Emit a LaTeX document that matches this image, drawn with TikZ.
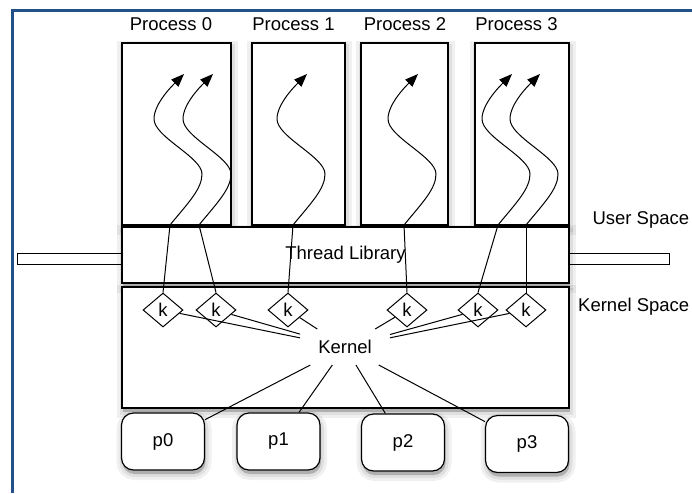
\documentclass[tikz,border=0pt]{standalone}
\usepackage{fontspec}
\setmainfont{Liberation Sans}
\usetikzlibrary{arrows.meta,shapes.geometric,shadows}
\definecolor{frameblue}{RGB}{36,80,138}
\def\thread(#1){\begin{scope}[shift={(#1)}]
	\draw[thread] (0,0) .. controls (18,-22) and (32,-36) .. (32,-51) .. controls (32,-68) and (-16,-88) .. (-16,-106) .. controls (-16,-122) and (4,-141) .. (14,-151);
\end{scope}}

\begin{document}
\begin{tikzpicture}[x=1pt,y=-1pt,font=\fontsize{18.5}{21}\selectfont,
	soft/.style={general shadow={fill=black,draw=black,opacity=.06,line width=12pt,shadow xshift=1pt,shadow yshift=-4pt},
		general shadow={fill=black,draw=black,opacity=.07,line width=6pt,shadow xshift=1pt,shadow yshift=-4pt},
		general shadow={fill=black,opacity=.1,shadow xshift=1pt,shadow yshift=-4pt}},
	box/.style={draw,line width=1.2pt,fill=white,inner sep=0pt,soft},
	pbox/.style={box,rounded corners=12pt,minimum width=83pt,minimum height=57pt},
	kdiam/.style={diamond,draw,fill=white,line width=1pt,minimum width=40pt,minimum height=34pt,inner sep=0pt},
	link/.style={line width=1pt},
	thread/.style={line width=1pt,-{Triangle[length=13pt,width=10pt]}}]
	%%%%% START %%%%%
	\def\ybot{225}
	\def\yk{310}
	\useasboundingbox (0,0) rectangle (692,493);
	
	\draw[frameblue,line width=3pt] (12,493) -- (12,10) -- (692,10);
	
	% bars
	\draw[line width=1pt,fill=white] (17,253) rectangle (122,264);
	\draw[line width=1pt,fill=white] (569,253) rectangle (669,264);
	
	% processes
	\node[box,minimum width=109pt,minimum height=182pt] (proc0) at (176.5,134) {};
	\node[box,minimum width=93pt,minimum height=182pt] (proc1) at (298.5,134) {};
	\node[box,minimum width=87pt,minimum height=182pt] (proc2) at (404.5,134) {};
	\node[box,minimum width=94pt,minimum height=182pt] (proc3) at (522,134) {};
	\node (lab0) at (171,24) {Process 0};
	\node (lab1) at (293.5,24) {Process 1};
	\node (lab2) at (405,24) {Process 2};
	\node (lab3) at (516.5,24) {Process 3};
	
	\node[box,minimum width=447pt,minimum height=56pt] (lib) at (345.5,255) {Thread Library};
	\node[box,minimum width=447pt,minimum height=121pt] (kbox) at (345.5,347.5) {};
	
	\node[anchor=west] (user) at (589,220) {User Space};
	\node[anchor=west,inner xsep=0pt] (kspace) at (578,307) {Kernel Space};
	
	% kernel threads
	\node[kdiam] (k0) at (163,\yk) {k};
	\node[kdiam] (k1) at (216,\yk) {k};
	\node[kdiam] (k2) at (288,\yk) {k};
	\node[kdiam] (k3) at (407,\yk) {k};
	\node[kdiam] (k4) at (478,\yk) {k};
	\node[kdiam] (k5) at (526,\yk) {k};
	\node[inner xsep=18pt,inner ysep=11pt] (kern) at (345,347) {Kernel};
	
	\coordinate (t0) at (170,\ybot);
	\coordinate (t1) at (199,\ybot);
	\coordinate (t2) at (293,\ybot);
	\coordinate (t3) at (404,\ybot);
	\coordinate (t4) at (498,\ybot);
	\coordinate (t5) at (526,\ybot);
	\foreach \i in {0,...,5}{
		\draw[link] (k\i.north) -- (t\i);
		\draw[link] (k\i) -- (kern);
		\thread(t\i)
	}
	
	% processors
	\node[pbox] (p0) at (163,441.5) {p0};
	\node[pbox] (p1) at (278.5,441.5) {p1};
	\node[pbox] (p2) at (403,442.5) {p2};
	\node[pbox] (p3) at (527,444) {p3};
	\foreach \i in {0,...,3}
		\draw[link] (kern) -- (p\i);
	%%%%% END %%%%%
\end{tikzpicture}
\end{document}
